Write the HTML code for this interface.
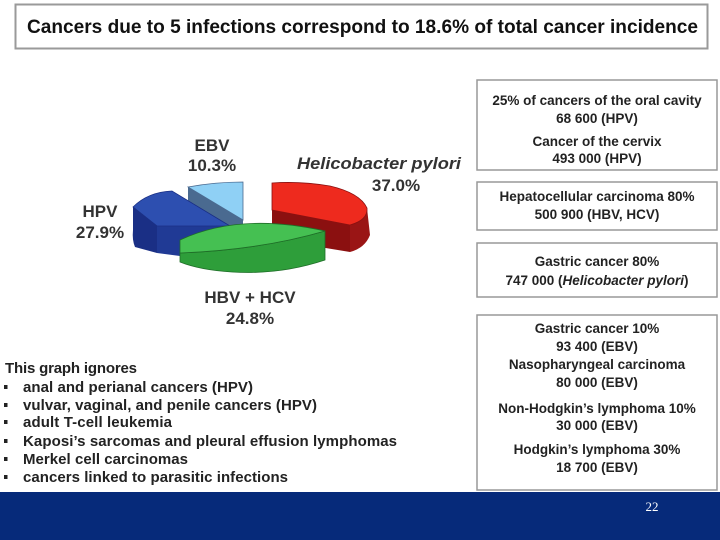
<!DOCTYPE html>
<html><head><meta charset="utf-8"><style>
body{margin:0;background:#fff;}
svg{display:block;font-family:"Liberation Sans",Arial,sans-serif;}
</style></head><body>
<svg width="720" height="540" viewBox="0 0 720 540" xmlns="http://www.w3.org/2000/svg">
<rect width="720" height="540" fill="#fff"/>
<rect x="15.5" y="4.5" width="692" height="44" fill="#fff" stroke="#9a9a9a" stroke-width="2"/>
<text x="27" y="33" font-size="19" font-weight="bold" fill="#111" textLength="671" lengthAdjust="spacingAndGlyphs">Cancers due to 5 infections correspond to 18.6% of total cancer incidence</text>

<!-- pie -->
<path d="M188,187 L243,220 L243,237 L230,245 L188,205 Z" fill="#4a6a90"/>
<path d="M188,187 Q215,182 243,182 L243,220 Z" fill="#8fd0f5" stroke="#4a6a90" stroke-width="0.8"/>
<path d="M133,207 L157,226 L157,253 L135,247 Q132,240 133,230 Z" fill="#1a2f85"/>
<path d="M157,226 L230,226 L180,245 L180,256 L157,253 Z" fill="#203a95"/>
<path d="M133,207 Q148,192 172,191 L230,226 L157,226 Z" fill="#2d4fb0" stroke="#1a2f85" stroke-width="0.8"/>
<path d="M272,210 L350,225 L350,252 L277,240 L272,232 Z" fill="#8b1010"/>
<path d="M350,225 Q368,220 367,208 L370,235 Q365,248 350,252 Z" fill="#9a1515"/>
<path d="M272,183 L272,210 L350,225 Q368,220 367,208 Q360,193 330,186 Q300,181 272,183 Z" fill="#ee2a1e" stroke="#8b1010" stroke-width="0.8"/>
<path d="M180,253 Q260,250 325,231 L325,260 Q280,275 232,272 Q200,270 180,262 Z" fill="#2e9e3a" stroke="#1f6e28" stroke-width="0.8"/>
<path d="M180,240 Q240,212 325,231 Q260,250 180,253 Z" fill="#45c052" stroke="#1f6e28" stroke-width="0.8"/>

<g font-size="17" font-weight="bold" fill="#333" text-anchor="middle">
<text x="212" y="151">EBV</text>
<text x="212" y="171">10.3%</text>
<text x="379" y="169" font-style="italic" textLength="164" lengthAdjust="spacingAndGlyphs">Helicobacter pylori</text>
<text x="396" y="191">37.0%</text>
<text x="100" y="217">HPV</text>
<text x="100" y="238">27.9%</text>
<text x="250" y="303">HBV + HCV</text>
<text x="250" y="324">24.8%</text>
</g>

<!-- right boxes -->
<g fill="#fff" stroke="#999" stroke-width="1.5">
<rect x="477" y="80" width="240" height="90"/>
<rect x="477" y="182" width="240" height="48"/>
<rect x="477" y="243" width="240" height="54"/>
<rect x="477" y="315" width="240" height="175"/>
</g>
<g font-size="13.5" font-weight="bold" fill="#222" text-anchor="middle">
<text x="597" y="105">25% of cancers of the oral cavity</text>
<text x="597" y="123">68 600 (HPV)</text>
<text x="597" y="146">Cancer of the cervix</text>
<text x="597" y="163">493 000 (HPV)</text>
<text x="597" y="201">Hepatocellular carcinoma 80%</text>
<text x="597" y="219">500 900 (HBV, HCV)</text>
<text x="597" y="266">Gastric cancer 80%</text>
<text x="597" y="285">747 000 (<tspan font-style="italic">Helicobacter pylori</tspan>)</text>
<text x="597" y="333">Gastric cancer 10%</text>
<text x="597" y="351">93 400 (EBV)</text>
<text x="597" y="369">Nasopharyngeal carcinoma</text>
<text x="597" y="387">80 000 (EBV)</text>
<text x="597" y="413">Non-Hodgkin’s lymphoma 10%</text>
<text x="597" y="430">30 000 (EBV)</text>
<text x="597" y="454">Hodgkin’s lymphoma 30%</text>
<text x="597" y="472">18 700 (EBV)</text>
</g>

<!-- list -->
<g font-size="15" font-weight="bold" fill="#222" lengthAdjust="spacingAndGlyphs">
<text x="5" y="373" textLength="132">This graph ignores</text>
<text x="23" y="392" textLength="230">anal and perianal cancers (HPV)</text>
<text x="23" y="410" textLength="294">vulvar, vaginal, and penile cancers (HPV)</text>
<text x="23" y="427" textLength="149">adult T-cell leukemia</text>
<text x="23" y="446" textLength="374">Kaposi’s sarcomas and pleural effusion lymphomas</text>
<text x="23" y="464" textLength="165">Merkel cell carcinomas</text>
<text x="23" y="482" textLength="265">cancers linked to parasitic infections</text>
</g>
<g fill="#222">
<rect x="4" y="385" width="3.5" height="4"/>
<rect x="4" y="403" width="3.5" height="4"/>
<rect x="4" y="420" width="3.5" height="4"/>
<rect x="4" y="439" width="3.5" height="4"/>
<rect x="4" y="457" width="3.5" height="4"/>
<rect x="4" y="475" width="3.5" height="4"/>
</g>

<rect x="0" y="492" width="720" height="48" fill="#062a7a"/>
<text x="652" y="511" font-size="13" fill="#fff" font-family="Liberation Serif,serif" text-anchor="middle">22</text>
</svg>
</body></html>
